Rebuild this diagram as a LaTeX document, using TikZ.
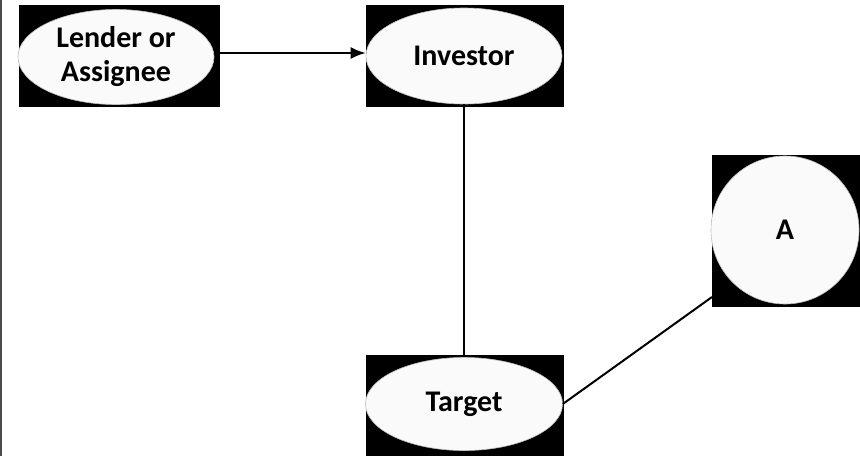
\documentclass[tikz,border=0pt]{standalone}
\usepackage{fontspec}
\setmainfont{Carlito}
\usetikzlibrary{shapes.geometric,arrows.meta}
\begin{document}
\begin{tikzpicture}[x=1pt,y=-1pt,
  blackbox/.style={draw=none,fill=black,rectangle,inner sep=0pt},
  oval/.style={ellipse,draw=gray!50,line width=0.6pt,fill=white!98!black,inner sep=0pt,
     align=center,font=\fontsize{30}{34}\selectfont\bfseries},
  conn/.style={line width=2pt,black}]
\useasboundingbox (0,0) rectangle (860,456);
\draw[line width=2pt,black!70] (1,0) -- (1,456);
% black boxes
\node[blackbox,minimum width=201pt,minimum height=102pt] (lbox) at (119.5,56) {};
\node[blackbox,minimum width=198pt,minimum height=102pt] (ibox) at (465,56) {};
\node[blackbox,minimum width=198pt,minimum height=101pt] (tbox) at (465,405.5) {};
\node[blackbox,minimum width=148pt,minimum height=152pt] (abox) at (786,231) {};
% ellipses
\node[oval,minimum width=196pt,minimum height=95pt] (lender) at (116,57) {Lender or\\Assignee};
\node[oval,minimum width=196pt,minimum height=96pt] (investor) at (464,56) {Investor};
\node[oval,minimum width=197pt,minimum height=93pt] (target) at (464,404) {Target};
\node[oval,circle,minimum size=148pt] (a) at (785,230) {A};
% connectors
\coordinate (aend) at (712,297);
\draw[conn,-{Latex[length=15pt,width=12pt]}] (lbox.east |- 0,53) -- (investor.west |- 0,53);
\draw[conn] (investor.south) -- (target.north);
\draw[conn] (target.east) -- (aend);
\end{tikzpicture}
\end{document}
